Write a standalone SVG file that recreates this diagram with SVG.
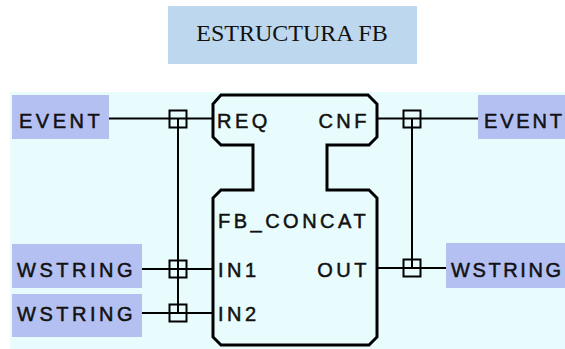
<svg xmlns="http://www.w3.org/2000/svg" width="565" height="349" viewBox="0 0 565 349">
  <style>
    .lbl { font-family: "Liberation Sans", Arial, sans-serif; font-size: 20px; letter-spacing: 3.5px; fill: #111; stroke: #111; stroke-width: 0.5px; }
    .typ { fill: #B5C0F2; }
    .wire { stroke: #000; stroke-width: 2; fill: none; }
    .jn { stroke: #000; stroke-width: 2; fill: none; }
    .blk { stroke: #000; stroke-width: 3; fill: #E8FCFD; stroke-linejoin: miter; }
    .title { font-family: "Liberation Serif", "Times New Roman", serif; font-size: 24px; fill: #111; }
  </style>
  <rect x="0" y="0" width="565" height="349" fill="#FFFFFF"/>
  <g id="title">
    <rect x="168" y="6" width="249" height="58" fill="#BDD7EE"/>
    <text class="title" x="292" y="41" text-anchor="middle">ESTRUCTURA FB</text>
  </g>
  <rect id="canvas" x="10" y="92" width="555" height="257" fill="#E8FCFD"/>
  <g id="in-event">
    <rect class="typ" x="12" y="95" width="97" height="44"/>
    <text class="lbl" x="19" y="128">EVENT</text>
  </g>
  <g id="in-wstring1">
    <rect class="typ" x="12" y="244" width="130" height="44"/>
    <text class="lbl" x="17" y="277">WSTRING</text>
  </g>
  <g id="in-wstring2">
    <rect class="typ" x="12" y="294" width="130" height="43"/>
    <text class="lbl" x="17" y="321">WSTRING</text>
  </g>
  <g id="out-event">
    <rect class="typ" x="478" y="95" width="87" height="44"/>
    <text class="lbl" x="484" y="128" style="letter-spacing:2.8px">EVENT</text>
  </g>
  <g id="out-wstring">
    <rect class="typ" x="446" y="243" width="119" height="45"/>
    <text class="lbl" x="451" y="277" style="letter-spacing:2.6px">WSTRING</text>
  </g>
  <g id="connectors">
    <line class="wire" x1="109" y1="118.5" x2="213" y2="118.5"/>
    <line class="wire" x1="142" y1="269" x2="213" y2="269"/>
    <line class="wire" x1="142" y1="313" x2="213" y2="313"/>
    <line class="wire" x1="178" y1="119" x2="178" y2="313"/>
    <rect class="jn" x="169.5" y="110.5" width="17" height="17"/>
    <rect class="jn" x="169.5" y="260.5" width="17" height="17"/>
    <rect class="jn" x="169.5" y="304.5" width="17" height="17"/>
    <line class="wire" x1="377" y1="118.5" x2="478" y2="118.5"/>
    <line class="wire" x1="377" y1="268" x2="446" y2="268"/>
    <line class="wire" x1="412" y1="119" x2="412" y2="268"/>
    <rect class="jn" x="403.5" y="110.5" width="17" height="17"/>
    <rect class="jn" x="403.5" y="259.5" width="17" height="17"/>
  </g>
  <g id="fb-concat">
    <path class="blk" d="M 221,95 L 368,95 L 377,104 L 377,137 L 369,145 L 327,145 L 327,190 L 369,190 L 377,198 L 377,337 L 369,345 L 221,345 L 213,337 L 213,198 L 221,190 L 253,190 L 253,145 L 221,145 L 213,137 L 213,104 Z"/>
    <text class="lbl" x="217" y="128">REQ</text>
    <text class="lbl" x="370" y="128" text-anchor="end">CNF</text>
    <text class="lbl" x="218" y="228">FB_CONCAT</text>
    <text class="lbl" x="218" y="277">IN1</text>
    <text class="lbl" x="218" y="321">IN2</text>
    <text class="lbl" x="370" y="277" text-anchor="end">OUT</text>
  </g>
</svg>
